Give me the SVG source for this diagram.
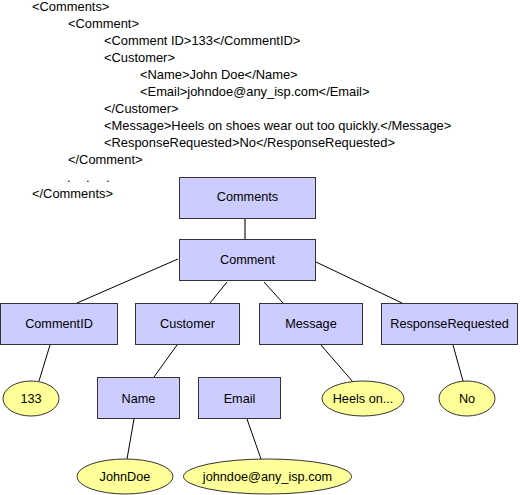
<svg xmlns="http://www.w3.org/2000/svg" width="520" height="495" viewBox="0 0 520 495">
<style>
.xml{font-family:"Liberation Sans",Arial,sans-serif;font-size:12.9px;fill:#000}
.box{fill:#CCCCFF;stroke:#333;stroke-width:1}
.leaf{fill:#FFFF99;stroke:#333;stroke-width:1}
.lbl{font-family:"Liberation Sans",Arial,sans-serif;font-size:12.7px;fill:#000;text-anchor:middle;dominant-baseline:central}
.ln{stroke:#000;stroke-width:1;fill:none}
</style>
<rect width="520" height="495" fill="#fff"/>
<g id="xml-text" class="xml">
<text x="32" y="11">&lt;Comments&gt;</text>
<text x="68" y="28">&lt;Comment&gt;</text>
<text x="104" y="45">&lt;Comment ID&gt;133&lt;/CommentID&gt;</text>
<text x="104" y="62">&lt;Customer&gt;</text>
<text x="140" y="79">&lt;Name&gt;John Doe&lt;/Name&gt;</text>
<text x="140" y="96">&lt;Email&gt;johndoe@any_isp.com&lt;/Email&gt;</text>
<text x="104" y="113">&lt;/Customer&gt;</text>
<text x="104" y="130">&lt;Message&gt;Heels on shoes wear out too quickly.&lt;/Message&gt;</text>
<text x="104" y="147">&lt;ResponseRequested&gt;No&lt;/ResponseRequested&gt;</text>
<text x="68" y="164">&lt;/Comment&gt;</text>
<text x="67" y="182">.</text>
<text x="86" y="182">.</text>
<text x="106" y="182">.</text>
<text x="32" y="198">&lt;/Comments&gt;</text>
</g>
<g id="connectors">
<line x1="245" y1="219" x2="245" y2="239" stroke="#777" stroke-width="2"/>
<line class="ln" x1="178" y1="259" x2="77" y2="303"/>
<line class="ln" x1="227" y1="282" x2="210" y2="303"/>
<line class="ln" x1="264" y1="282" x2="283" y2="303"/>
<line class="ln" x1="316" y1="262" x2="402" y2="303"/>
<line class="ln" x1="50" y1="345" x2="39" y2="381"/>
<line class="ln" x1="177" y1="345" x2="154" y2="377"/>
<line class="ln" x1="321" y1="345" x2="353" y2="382"/>
<line class="ln" x1="453" y1="345" x2="463" y2="381"/>
<line class="ln" x1="134" y1="419" x2="127" y2="459"/>
<line class="ln" x1="247" y1="419" x2="261" y2="459"/>
</g>
<g id="n-comments"><rect class="box" x="179.5" y="177.5" width="136" height="41"/><text class="lbl" x="247.5" y="197">Comments</text></g>
<g id="n-comment"><rect class="box" x="179.5" y="239.5" width="136" height="41"/><text class="lbl" x="247.5" y="260">Comment</text></g>
<g id="n-commentid"><rect class="box" x="0.5" y="303.5" width="117" height="41"/><text class="lbl" x="59" y="324">CommentID</text></g>
<g id="n-customer"><rect class="box" x="135.5" y="303.5" width="104" height="41"/><text class="lbl" x="187.5" y="324">Customer</text></g>
<g id="n-message"><rect class="box" x="259.5" y="303.5" width="103" height="41"/><text class="lbl" x="311" y="324">Message</text></g>
<g id="n-responserequested"><rect class="box" x="381.5" y="303.5" width="136" height="41"/><text class="lbl" x="449.5" y="324">ResponseRequested</text></g>
<g id="n-133"><ellipse class="leaf" cx="31" cy="398.5" rx="28" ry="17.5"/><text class="lbl" x="31" y="398.5">133</text></g>
<g id="n-name"><rect class="box" x="97.5" y="377.5" width="82" height="41"/><text class="lbl" x="138.5" y="398.5">Name</text></g>
<g id="n-email"><rect class="box" x="198.5" y="377.5" width="82" height="41"/><text class="lbl" x="239.5" y="398.5">Email</text></g>
<g id="n-heels"><ellipse class="leaf" cx="363" cy="398.5" rx="41" ry="17.5"/><text class="lbl" x="363" y="398.5">Heels on...</text></g>
<g id="n-no"><ellipse class="leaf" cx="467" cy="398.5" rx="28" ry="17.5"/><text class="lbl" x="467" y="398.5">No</text></g>
<g id="n-johndoe"><ellipse class="leaf" cx="125" cy="476.5" rx="48" ry="17.5"/><text class="lbl" x="125" y="476.5">JohnDoe</text></g>
<g id="n-emailval"><ellipse class="leaf" cx="267.5" cy="476.5" rx="84" ry="17.5"/><text class="lbl" x="267.5" y="476.5">johndoe@any_isp.com</text></g>
</svg>
